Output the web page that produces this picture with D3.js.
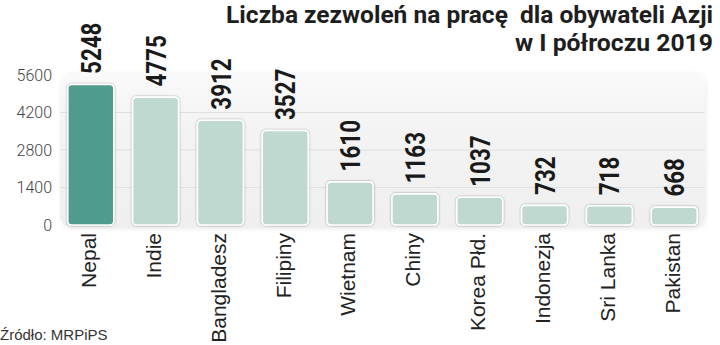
<!DOCTYPE html>
<html>
<head>
<meta charset="utf-8">
<script src="https://cdn.jsdelivr.net/npm/d3@7"></script>
<style>
  html, body { margin: 0; padding: 0; background: #fff; }
  svg { display: block; }
</style>
</head>
<body>
<div id="chart"></div>
<script>
const countries = ['Nepal', 'Indie', 'Bangladesz', 'Filipiny', 'Wietnam', 'Chiny', 'Korea Płd.', 'Indonezja', 'Sri Lanka', 'Pakistan'];
const permits = [5248, 4775, 3912, 3527, 1610, 1163, 1037, 732, 718, 668];
const yTicks = [0, 1400, 2800, 4200, 5600];
const titleLines = ['Liczba zezwoleń na pracę\u00a0 dla obywateli Azji', 'w I półroczu 2019'];
const source = 'Źródło: MRPiPS';

const w = 720;
const h = 345;
const panelLeft = 60, panelRight = 705, panelTop = 73, panelBottom = 228;

const svg = d3.select('#chart')
  .append('svg')
  .attr('width', w)
  .attr('height', h);

const defs = svg.append('defs');
const grad = defs.append('linearGradient')
  .attr('id', 'panelGrad')
  .attr('x1', 0).attr('y1', 0).attr('x2', 0).attr('y2', 1);
grad.append('stop').attr('offset', '0%').attr('stop-color', '#fafafa');
grad.append('stop').attr('offset', '30%').attr('stop-color', '#f4f4f4');
grad.append('stop').attr('offset', '100%').attr('stop-color', '#efefef');

const panelShadow = defs.append('filter').attr('id', 'panelShadow')
  .attr('x', '-5%').attr('y', '-10%').attr('width', '110%').attr('height', '120%');
panelShadow.append('feDropShadow')
  .attr('dx', 1).attr('dy', 1).attr('stdDeviation', 2)
  .attr('flood-color', '#000').attr('flood-opacity', 0.08);

const barShadow = defs.append('filter').attr('id', 'barShadow')
  .attr('x', '-20%').attr('y', '-20%').attr('width', '140%').attr('height', '140%');
barShadow.append('feDropShadow')
  .attr('dx', 0).attr('dy', 0).attr('stdDeviation', 1)
  .attr('flood-color', '#000').attr('flood-opacity', 0.4);

const xScale = d3.scaleBand()
  .domain(countries)
  .range([panelLeft, panelRight])
  .paddingInner(0.29)
  .paddingOuter(0.12);

const yScale = d3.scaleLinear()
  .domain([0, 5600])
  .range([225, 75]);

// plot panel
svg.append('rect')
  .attr('x', panelLeft)
  .attr('y', panelTop)
  .attr('width', panelRight - panelLeft)
  .attr('height', panelBottom - panelTop)
  .attr('rx', 12)
  .attr('fill', 'url(#panelGrad)')
  .attr('filter', 'url(#panelShadow)');

// gridlines
svg.append('g')
  .selectAll('line')
  .data(yTicks.filter(d => d > 0 && d < 5600))
  .enter()
  .append('line')
  .attr('x1', panelLeft)
  .attr('x2', panelRight)
  .attr('y1', d => yScale(d))
  .attr('y2', d => yScale(d))
  .attr('stroke', '#e1e1e1')
  .attr('stroke-width', 1);

// y axis
const yAxis = d3.axisLeft(yScale)
  .tickValues(yTicks)
  .tickFormat(d3.format('d'))
  .tickSize(0)
  .tickPadding(0);
const yG = svg.append('g')
  .attr('transform', 'translate(52, 0)')
  .call(yAxis)
  .attr('id', 'y-axis');
yG.select('.domain').remove();
yG.selectAll('text')
  .attr('font-family', 'Roboto, sans-serif')
  .attr('font-weight', 300)
  .attr('font-size', 16)
  .attr('fill', '#444');

// bars
const data = countries.map((c, i) => ({ name: c, value: permits[i] }));

svg.append('g')
  .selectAll('rect')
  .data(data)
  .enter()
  .append('rect')
  .attr('x', d => xScale(d.name))
  .attr('y', d => yScale(d.value))
  .attr('width', xScale.bandwidth())
  .attr('height', d => yScale(0) - yScale(d.value))
  .attr('rx', 4)
  .attr('fill', (d, i) => i === 0 ? '#4f9b8c' : '#bfd9d1')
  .attr('stroke', '#fff')
  .attr('stroke-width', 1.6)
  .attr('filter', 'url(#barShadow)');

// value labels
svg.append('g')
  .selectAll('text')
  .data(data)
  .enter()
  .append('text')
  .attr('transform', d => `translate(${xScale(d.name) + xScale.bandwidth() / 2}, ${yScale(d.value) - 10.5}) rotate(-90) scale(0.8, 1)`)
  .attr('dy', '0.36em')
  .attr('text-anchor', 'start')
  .attr('font-family', 'Roboto, sans-serif')
  .attr('font-weight', 700)
  .attr('font-size', 28)
  .attr('fill', '#1a1a1a')
  .text(d => d.value);

// x axis labels
const xAxis = d3.axisBottom(xScale).tickSize(0).tickPadding(0);
const xG = svg.append('g')
  .attr('transform', 'translate(0, 233)')
  .call(xAxis)
  .attr('id', 'x-axis');
xG.select('.domain').remove();
xG.selectAll('text')
  .attr('transform', 'translate(-2, 0) rotate(-90)')
  .attr('x', 0)
  .attr('y', 0)
  .attr('dy', '0.35em')
  .attr('text-anchor', 'end')
  .attr('font-family', '"Liberation Sans", Arial, sans-serif')
  .attr('font-size', 21)
  .attr('fill', '#222');

// title
const title = svg.append('g');
title.selectAll('text')
  .data(titleLines)
  .enter()
  .append('text')
  .attr('x', 713)
  .attr('y', (d, i) => 23 + i * 28.5)
  .attr('text-anchor', 'end')
  .attr('font-family', 'Roboto, sans-serif')
  .attr('font-weight', 700)
  .attr('font-size', 24.5)
  .attr('fill', '#1e1e1e')
  .text(d => d);

// squeeze title lines to the measured widths
const titleWidths = [487, 198];
title.selectAll('text').each(function(d, i) {
  const len = this.getComputedTextLength();
  const s = titleWidths[i] / len;
  d3.select(this)
    .attr('x', 713 / s)
    .attr('transform', `scale(${s}, 1)`);
});

// source
svg.append('text')
  .attr('x', 0)
  .attr('y', 340)
  .attr('font-family', '"Liberation Sans", Arial, sans-serif')
  .attr('font-size', 15)
  .attr('fill', '#333')
  .text(source);
</script>
</body>
</html>
